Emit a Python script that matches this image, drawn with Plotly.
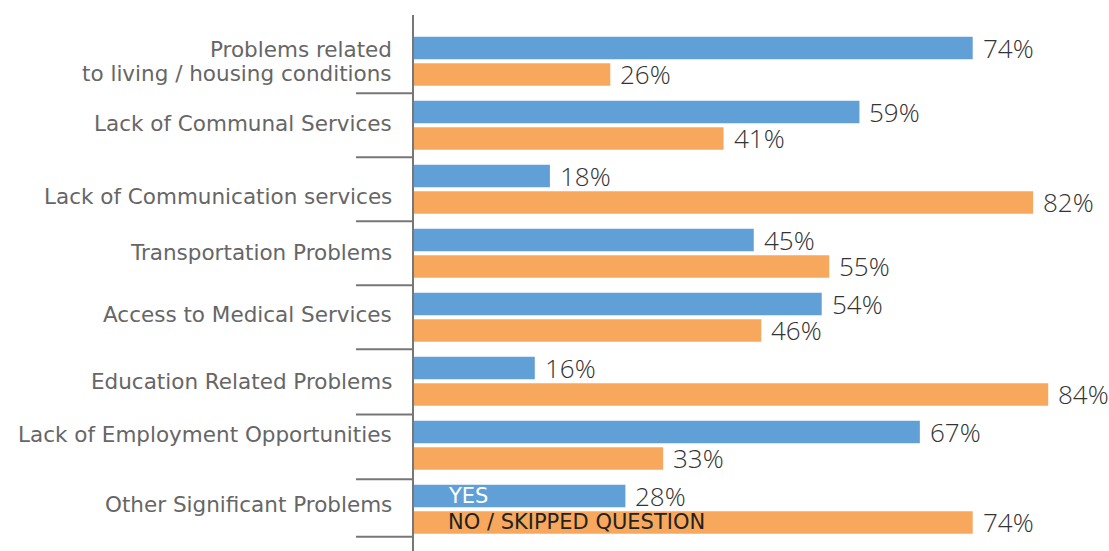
import plotly.graph_objects as go

categories = [
    "Problems related<br>to living / housing conditions",
    "Lack of Communal Services",
    "Lack of Communication services",
    "Transportation Problems",
    "Access to Medical Services",
    "Education Related Problems",
    "Lack of Employment Opportunities",
    "Other Significant Problems",
]
yes_values = [74, 59, 18, 45, 54, 16, 67, 28]
no_values = [26, 41, 82, 55, 46, 84, 33, 74]
series_names = ["YES", "NO / SKIPPED QUESTION"]

# style-only settings
label_yshift = [0, 2, -7, 1, 3, 0, 11, 5]
line_gap = 24  # px between lines of a wrapped category label
boundaries = [0.5, 1.5, 2.5, 3.5, 4.5, 5.52, 6.53, 7.43]
BLUE = "#60A0D6"
ORANGE = "#F7A85C"
LABEL_FONT = dict(family="DejaVu Sans", size=21.5, color="#666666")
VALUE_FONT = dict(family="Open Sans", size=26, color="#333333", weight=300)

idx = list(range(len(categories)))

fig = go.Figure()
fig.add_trace(go.Bar(y=idx, x=yes_values, orientation="h", name=series_names[0],
                     marker=dict(color=BLUE, line_width=0), hoverinfo="skip"))
fig.add_trace(go.Bar(y=idx, x=no_values, orientation="h", name=series_names[1],
                     marker=dict(color=ORANGE, line_width=0), hoverinfo="skip"))

annotations = []
# value labels
for i in idx:
    for vals, dy in ((yes_values, 13.2), (no_values, -13.2)):
        annotations.append(dict(x=vals[i], y=i, xref="x", yref="y", text=f"{vals[i]}%",
                                showarrow=False, xanchor="left", yanchor="middle",
                                xshift=8, yshift=dy, font=VALUE_FONT))
# category labels (wrapped ones drawn line by line for tighter spacing)
for i, c in enumerate(categories):
    lines = c.split("<br>")
    n = len(lines)
    for k, line in enumerate(lines):
        dy = label_yshift[i] + ((n - 1) / 2 - k) * line_gap
        annotations.append(dict(x=0, y=i, xref="paper", yref="y", text=line, showarrow=False,
                                xanchor="right", yanchor="middle", align="right",
                                xshift=-20, yshift=dy, font=LABEL_FONT))
# in-bar legend labels
last = idx[-1]
annotations.append(dict(x=0, y=last, xref="x", yref="y", text=series_names[0], showarrow=False,
                        xanchor="left", yanchor="middle", xshift=32, yshift=13.2,
                        font=dict(family="DejaVu Sans", size=21, color="white")))
annotations.append(dict(x=0, y=last, xref="x", yref="y", text=series_names[1], showarrow=False,
                        xanchor="left", yanchor="middle", xshift=32, yshift=-13.2,
                        font=dict(family="DejaVu Sans", size=21, color="#222222")))

W, H = 1109, 551
L, T = 414, 15
plot_w = W - L

shapes = []
for b in boundaries:
    shapes.append(dict(type="line", xref="paper", yref="y", x0=-58 / plot_w, x1=-1 / plot_w,
                       y0=b, y1=b, line=dict(color="#777777", width=2)))

fig.update_layout(
    width=W, height=H,
    margin=dict(l=L, r=0, t=T, b=0),
    paper_bgcolor="white", plot_bgcolor="white",
    barmode="group", bargap=0.172, bargroupgap=0.151,
    showlegend=False,
    annotations=annotations, shapes=shapes,
    xaxis=dict(range=[0, plot_w / 7.55], visible=False, fixedrange=True),
    yaxis=dict(range=[7.652, -0.723], showticklabels=False, ticks="", showgrid=False,
               zeroline=False, showline=True, linecolor="#777777", linewidth=2,
               fixedrange=True),
)

fig.write_html("out.html", config={"displayModeBar": False},
               post_script="document.body.style.margin='0';document.body.style.overflow='hidden';")
